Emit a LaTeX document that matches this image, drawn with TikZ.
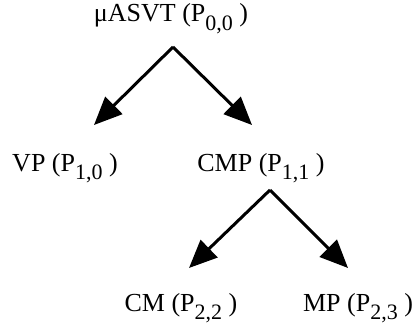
\documentclass[tikz,border=0pt]{standalone}
\usepackage{fontspec}
\setmainfont{Liberation Serif}
\usepackage{tikz}
\usetikzlibrary{arrows.meta, positioning}

\newcommand{\pidx}[1]{\raisebox{-0.32em}{\fontsize{22}{22}\selectfont #1}}

\tikzset{
	label/.style = {anchor = base, inner sep = 0pt, font = \fontsize{26}{30}\selectfont},
	split/.style = {line width = 3pt, -{Triangle[length = 28pt, width = 24pt]}}
}

\begin{document}
\begin{tikzpicture}[x = 1pt, y = 1pt]
		\useasboundingbox (0,0) rectangle (416,325);
		
		\node [label] (asvt) at (171,303) {μASVT (P\pidx{0,0} )};
		\node [label] (vp) at (65,154) {VP (P\pidx{1,0} )};
		\node [label] (cmp) at (261,154) {CMP (P\pidx{1,1} )};
		\node [label] (cm) at (181,14) {CM (P\pidx{2,2} )};
		\node [label] (mp) at (358,14) {MP (P\pidx{2,3} )};
		
		\coordinate (asvt-fork) at (173,278);
		\coordinate (vp-tip) at (94,200);
		\coordinate (cmp-tip) at (252,200);
		
		\coordinate (cmp-fork) at (270,135);
		\coordinate (cm-tip) at (189,57);
		\coordinate (mp-tip) at (348,57);
		
		\draw [split] (asvt-fork) -- (vp-tip);
		\draw [split] (asvt-fork) -- (cmp-tip);
		
		\draw [split] (cmp-fork) -- (cm-tip);
		\draw [split] (cmp-fork) -- (mp-tip);
	\end{tikzpicture}
\end{document}
